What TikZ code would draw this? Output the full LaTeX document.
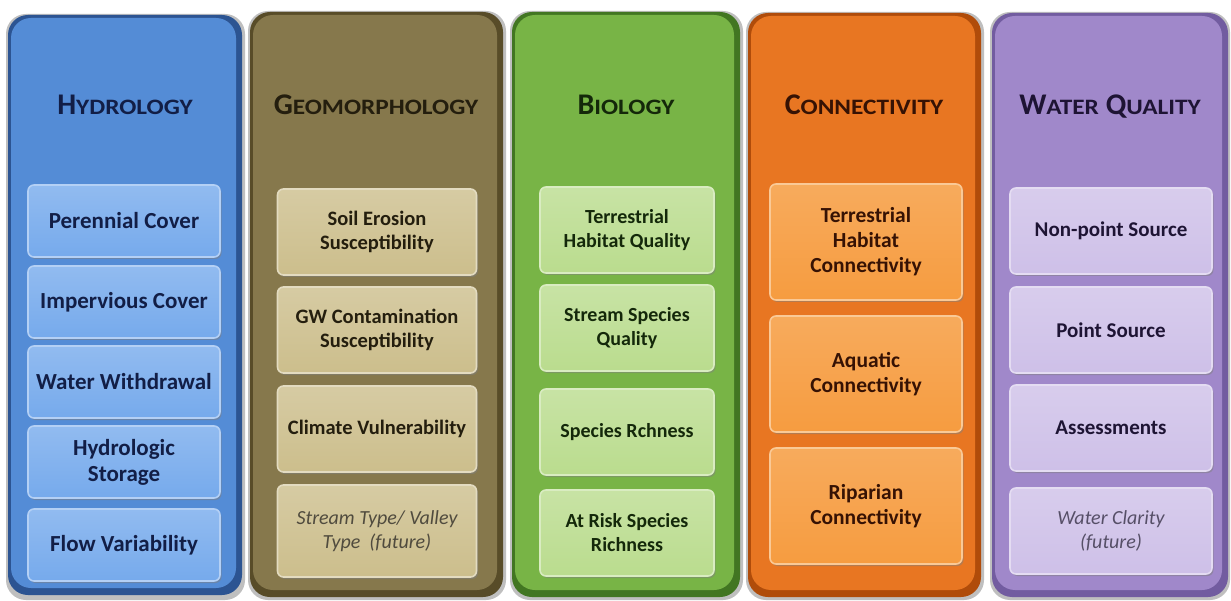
\documentclass[tikz,border=0pt]{standalone}
\usepackage{fontspec}
\setmainfont{Carlito}
\usetikzlibrary{shadows}

% Colores
\definecolor{hidroRim}{RGB}{44,84,146}
\definecolor{hidroCol}{RGB}{84,140,214}
\definecolor{hidroBox}{RGB}{118,170,236}
\definecolor{hidroTxt}{RGB}{18,30,70}
\definecolor{geoRim}{RGB}{88,76,40}
\definecolor{geoCol}{RGB}{134,120,76}
\definecolor{geoBox}{RGB}{204,190,140}
\definecolor{geoTxt}{RGB}{36,30,14}
\definecolor{bioRim}{RGB}{66,118,34}
\definecolor{bioCol}{RGB}{120,180,70}
\definecolor{bioBox}{RGB}{186,220,142}
\definecolor{bioTxt}{RGB}{20,40,10}
\definecolor{conRim}{RGB}{176,76,10}
\definecolor{conCol}{RGB}{232,118,34}
\definecolor{conBox}{RGB}{246,156,64}
\definecolor{conTxt}{RGB}{54,18,4}
\definecolor{wqRim}{RGB}{114,92,160}
\definecolor{wqCol}{RGB}{160,136,202}
\definecolor{wqBox}{RGB}{206,192,232}
\definecolor{wqTxt}{RGB}{30,20,52}

\newcommand{\smcap}[2]{{\fontsize{30}{30}\selectfont #1}{\fontsize{22}{22}\selectfont\addfontfeature{FakeStretch=1.15}#2}}

\begin{document}
\begin{tikzpicture}[x=1pt,y=-1pt,
  column/.style={rounded corners=20pt},
  header/.style={anchor=base,font=\bfseries},
  item/.style={rounded corners=6pt,align=center,line width=1.6pt,
    drop shadow={opacity=0.5,shadow xshift=1.5pt,shadow yshift=-2pt}},
  future/.style={font=\fontsize{#1}{24}\selectfont\itshape},
  hidro/.style={item,draw=hidroBox!55!white,top color=hidroBox!80!white,bottom color=hidroBox,text=hidroTxt,
    font=\fontsize{23}{26}\selectfont\bfseries,minimum width=192pt,minimum height=72pt},
  geo/.style={item,draw=geoBox!55!white,top color=geoBox!80!white,bottom color=geoBox,text=geoTxt,
    font=\fontsize{20.5}{24}\selectfont\bfseries,minimum width=199pt,minimum height=86pt},
  bio/.style={item,draw=bioBox!55!white,top color=bioBox!80!white,bottom color=bioBox,text=bioTxt,
    font=\fontsize{20}{24}\selectfont\bfseries,minimum width=174pt,minimum height=86pt},
  con/.style={item,draw=conBox!55!white,top color=conBox!85!white,bottom color=conBox,text=conTxt,
    font=\fontsize{21.5}{25}\selectfont\bfseries,minimum width=192pt,minimum height=116pt},
  wq/.style={item,draw=wqBox!55!white,top color=wqBox!80!white,bottom color=wqBox,text=wqTxt,
    font=\fontsize{21}{24}\selectfont\bfseries,minimum width=202pt,minimum height=86pt}]
  \useasboundingbox[fill=white] (0,0) rectangle (1231,601);

  % Columnas
  \fill[column,black!25] (6,14) rectangle (245,600);
  \fill[column,hidroRim] (8,15) rectangle (242,595);
  \fill[column,hidroCol] (11,18) rectangle (236,588);
  \fill[column,black!25] (248,11) rectangle (506,600);
  \fill[column,geoRim] (250,12) rectangle (503,597);
  \fill[column,geoCol] (253,15) rectangle (497,590);
  \fill[column,black!25] (510,11) rectangle (743,600);
  \fill[column,bioRim] (512,12) rectangle (740,597);
  \fill[column,bioCol] (515,15) rectangle (734,590);
  \fill[column,black!25] (746,12) rectangle (984,600);
  \fill[column,conRim] (748,13) rectangle (981,597);
  \fill[column,conCol] (751,16) rectangle (975,590);
  \fill[column,black!25] (990,12) rectangle (1230,600);
  \fill[column,wqRim] (992,13) rectangle (1228,597);
  \fill[column,wqCol] (995,16) rectangle (1222,590);

  % Titulos
  \node[header,text=hidroTxt] (hH) at (125,115) {\smcap{H}{YDROLOGY}};
  \node[header,text=geoTxt] (hG) at (376,115) {\smcap{G}{EOMORPHOLOGY}};
  \node[header,text=bioTxt] (hB) at (626,115) {\smcap{B}{IOLOGY}};
  \node[header,text=conTxt] (hC) at (864,115) {\smcap{C}{ONNECTIVITY}};
  \node[header,text=wqTxt] (hW) at (1110,115) {\smcap{W}{ATER}\hspace{7pt}\smcap{Q}{UALITY}};

  % Hidrologia
  \node[hidro] (h1) at (124,221) {Perennial Cover};
  \node[hidro] (h2) at (124,302) {Impervious Cover};
  \node[hidro] (h3) at (124,382) {Water Withdrawal};
  \node[hidro] (h4) at (124,462) {Hydrologic\\Storage};
  \node[hidro] (h5) at (124,545) {Flow Variability};

  % Geomorfologia
  \node[geo] (g1) at (377,232) {Soil Erosion\\Susceptibility};
  \node[geo] (g2) at (377,330) {GW Contamination\\Susceptibility};
  \node[geo] (g3) at (377,429) {Climate Vulnerability};
  \node[geo,future=20,text=geoTxt!80!white,minimum height=92pt] (g4) at (377,531) {Stream Type/ Valley\\Type~~(future)};

  % Biologia
  \node[bio] (b1) at (627,230) {Terrestrial\\Habitat Quality};
  \node[bio] (b2) at (627,328) {Stream Species\\Quality};
  \node[bio] (b3) at (627,432) {Species Rchness};
  \node[bio] (b4) at (627,533) {At Risk Species\\Richness};

  % Conectividad
  \node[con] (c1) at (866,242) {Terrestrial\\Habitat\\Connectivity};
  \node[con] (c2) at (866,374) {Aquatic\\Connectivity};
  \node[con] (c3) at (866,506) {Riparian\\Connectivity};

  % Calidad del agua
  \node[wq] (w1) at (1111,231) {Non-point Source};
  \node[wq] (w2) at (1111,330) {Point Source};
  \node[wq] (w3) at (1111,428) {Assessments};
  \node[wq,future=20,text=wqTxt!75!white] (w4) at (1111,531) {Water Clarity\\(future)};
\end{tikzpicture}
\end{document}
